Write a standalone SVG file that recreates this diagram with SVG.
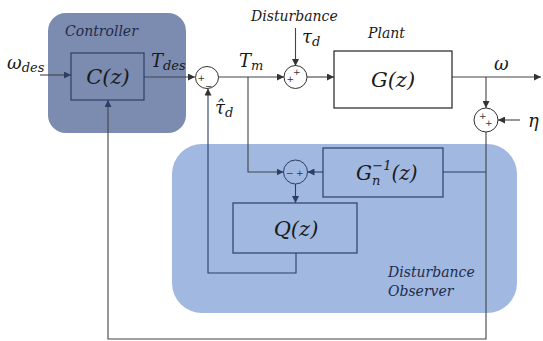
<svg xmlns="http://www.w3.org/2000/svg" width="543" height="341" viewBox="0 0 543 341">
<defs>
<marker id="ah" viewBox="0 0 8 8" refX="8" refY="4" markerWidth="7" markerHeight="7" markerUnits="userSpaceOnUse" orient="auto">
<path d="M0,0 L8,4 L0,8 z" fill="#333"/>
</marker>
<marker id="ahb" viewBox="0 0 8 8" refX="8" refY="4" markerWidth="7" markerHeight="7" markerUnits="userSpaceOnUse" orient="auto">
<path d="M0,0 L8,4 L0,8 z" fill="#2d3e66"/>
</marker>
</defs>
<style>
.lbl{font-family:"DejaVu Serif",serif;font-style:italic;font-size:14px;fill:#1f2b4a}
.math{font-family:"DejaVu Serif",serif;font-style:italic;fill:#1a1a1a}
.big{font-size:21px}
.sym{font-size:18px}
.sub{font-size:13px}
.sign{font-family:"DejaVu Sans",sans-serif;font-size:9px;fill:#333}
.sum{fill:none;stroke:#333;stroke-width:1}
.sumb{fill:none;stroke:#2d3e66;stroke-width:1}
.box{fill:none;stroke:#2d3e66;stroke-width:1.2}
.pbox{fill:#fff;stroke:#222;stroke-width:1.2}
.wire{fill:none;stroke:#444;stroke-width:1.1}
.wireb{fill:none;stroke:#2d3e66;stroke-width:1.1}
</style>
<rect width="543" height="341" fill="#fff"/>

<g id="dob">
<rect x="172" y="144" width="345" height="169" rx="30" fill="#a1b8e1"/>
<text class="lbl" x="388" y="277">Disturbance</text>
<text class="lbl" x="388" y="296">Observer</text>
</g>

<g id="controller">
<rect x="48" y="13" width="138" height="120" rx="18" fill="#7b8cb0"/>
<text class="lbl" x="65" y="36">Controller</text>
</g>

<g id="connectors">
<path class="wire" d="M40,75 L71,75" marker-end="url(#ahb)"/>
<path class="wire" d="M144,77 L195,77" marker-end="url(#ah)"/>
<path class="wire" d="M218,77 L284,77" marker-end="url(#ah)"/>
<path class="wire" d="M295.5,28 L295.5,66" marker-end="url(#ah)"/>
<path class="wire" d="M307,77 L334,77" marker-end="url(#ah)"/>
<path class="wire" d="M452,77 L541,77" marker-end="url(#ah)"/>
<path class="wire" d="M486,77 L486,108" marker-end="url(#ah)"/>
<path class="wire" d="M520,120 L498,120" marker-end="url(#ah)"/>
<path class="wire" d="M486,132 L486,339 L108,339 L108,100" marker-end="url(#ahb)"/>
<path class="wireb" d="M486,172 L443,172"/>
<path class="wireb" d="M323,172 L307.5,172" marker-end="url(#ahb)"/>
<path class="wire" d="M248,77 L248,172 L283.5,172" marker-end="url(#ahb)"/>
<path class="wireb" d="M295.5,184 L295.5,203" marker-end="url(#ahb)"/>
<path class="wireb" d="M296,253 L296,273 L208,273 L208,88.5" marker-end="url(#ah)"/>
</g>

<g id="cz">
<rect class="box" x="71" y="53" width="73" height="47"/>
<text class="math big" x="108" y="84" text-anchor="middle" fill="#1f2b4a">C(z)</text>
</g>

<g id="sum1">
<ellipse class="sum" cx="207" cy="77.5" rx="11.5" ry="11"/>
<text class="sign" x="197.5" y="81">+</text>
<text class="sign" x="205" y="89">−</text>
</g>

<g id="sum2">
<circle class="sum" cx="295.5" cy="77" r="11.5"/>
<text class="sign" x="286.5" y="82">+</text>
<text class="sign" x="293" y="75">+</text>
</g>

<g id="plant">
<rect class="pbox" x="334" y="51" width="118" height="57"/>
<text class="math big" x="393" y="87" text-anchor="middle">G(z)</text>
<text class="lbl" x="368" y="38" style="fill:#1a1a1a">Plant</text>
</g>

<g id="sum3">
<circle class="sum" cx="486" cy="120" r="12"/>
<text class="sign" x="479" y="119">+</text>
<text class="sign" x="485" y="126">+</text>
</g>

<g id="sum4">
<circle class="sumb" cx="295.5" cy="172" r="12"/>
<text class="sign" x="286" y="176" fill="#2d3e66">−</text>
<text class="sign" x="296" y="176" fill="#2d3e66">+</text>
</g>

<g id="gninv">
<rect class="box" x="323" y="148" width="120" height="49"/>
<text class="math" x="356" y="180" font-size="20" fill="#1f2b4a">G<tspan font-size="13" dy="5">n</tspan><tspan font-size="13" dx="-8" dy="-15">−1</tspan><tspan font-size="20" dy="10">(z)</tspan></text>
</g>

<g id="qz">
<rect class="box" x="233" y="203" width="124" height="50"/>
<text class="math big" x="296" y="236" text-anchor="middle" fill="#1f2b4a">Q(z)</text>
</g>

<g id="labels">
<text class="math sym" x="7" y="69">ω<tspan class="sub" dy="3">des</tspan></text>
<text class="math sym" x="151" y="67" fill="#1a1a1a">T<tspan class="sub" dy="3">des</tspan></text>
<text class="math sym" x="239" y="67">T<tspan class="sub" dy="3">m</tspan></text>
<text class="lbl" x="251" y="21" style="fill:#1a1a1a">Disturbance</text>
<text class="math sym" x="302" y="43">τ<tspan class="sub" dy="3">d</tspan></text>
<text class="math sym" x="494" y="70">ω</text>
<text class="math sym" x="528" y="127">η</text>
<text class="math sym" x="215" y="114">τ̂<tspan class="sub" dy="3">d</tspan></text>
</g>
</svg>
